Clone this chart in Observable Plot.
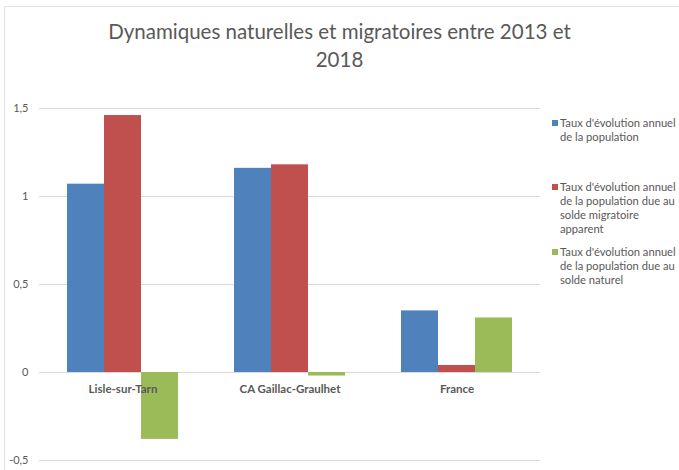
<!DOCTYPE html>
<html><head><meta charset="utf-8">
<script src="https://cdn.jsdelivr.net/npm/d3@7"></script>
<script src="https://cdn.jsdelivr.net/npm/@observablehq/plot@0.6"></script>
<style>
body{margin:0;background:#fff;}
#wrap{position:relative;width:679px;height:470px;overflow:hidden;font-family:Lato,"Open Sans",sans-serif;color:#595959;}
#border{position:absolute;left:4px;top:6px;width:680px;height:470px;border-left:1.5px solid #e3e3e3;border-top:1.5px solid #e3e3e3;}
#title{position:absolute;left:0;top:17px;width:679px;text-align:center;font-size:20.5px;line-height:28px;color:#595959;}
#chart{position:absolute;left:0;top:0;}
#legend{position:absolute;left:552px;top:116px;font-size:11.2px;line-height:14px;color:#595959;}
.item{position:absolute;left:0;width:127px;padding-left:8px;white-space:nowrap;}
.sw{position:absolute;left:0;top:4px;width:6px;height:6px;}
</style></head>
<body><div id="wrap"><div id="border"></div><div id="chart"></div>
<div id="title">Dynamiques naturelles et migratoires entre 2013 et<br>2018</div>
<div id="legend"></div></div>
<script>
const categories = ["Lisle-sur-Tarn", "CA Gaillac-Graulhet", "France"];
const series = [
  "Taux d'évolution annuel de la population",
  "Taux d'évolution annuel de la population due au solde migratoire apparent",
  "Taux d'évolution annuel de la population due au solde naturel"
];
const seriesLines = [
  ["Taux d'évolution annuel", "de la population"],
  ["Taux d'évolution annuel", "de la population due au", "solde migratoire", "apparent"],
  ["Taux d'évolution annuel", "de la population due au", "solde naturel"]
];
const totalRate = [1.07, 1.16, 0.35];
const migratoryRate = [1.46, 1.18, 0.04];
const naturalRate = [-0.38, -0.02, 0.31];
const colors = ["#4F81BD", "#C0504D", "#9BBB59"];
const yTicks = [-0.5, 0, 0.5, 1, 1.5];

const values = [totalRate, migratoryRate, naturalRate];
const data = [];
categories.forEach((c, i) => series.forEach((s, j) => data.push({category: c, series: s, value: values[j][i]})));

const plot = Plot.plot({
  width: 679, height: 470,
  marginTop: 108, marginBottom: 10, marginLeft: 38, marginRight: 139,
  style: {fontFamily: "Lato, 'Open Sans', sans-serif", color: "#595959", background: "transparent"},
  fx: {domain: categories, padding: 0, axis: null, label: null},
  x: {domain: series, paddingInner: 0, paddingOuter: 0.75, axis: null, label: null},
  y: {domain: [-0.5, 1.5], axis: null, label: null},
  color: {domain: series, range: colors},
  marks: [
    Plot.ruleY(yTicks, {y: d => d, stroke: "#d9d9d9", strokeWidth: 1}),
    Plot.barY(data, {fx: "category", x: "series", y: "value", fill: "series"}),
    Plot.text(categories, {fx: d => d, y: 0, text: d => d, dy: 17, fontWeight: "bold", fontSize: 11.5, fill: "#595959"}),
    Plot.axisY(yTicks, {tickSize: 0, tickPadding: 11, fontSize: 11, label: null, tickFormat: d => String(d).replace(".", ","), anchor: "left"})
  ]
});
document.getElementById("chart").appendChild(plot);

const legend = document.getElementById("legend");
const tops = [0, 64, 129];
seriesLines.forEach((lines, i) => {
  const it = document.createElement("div");
  it.className = "item";
  it.style.top = tops[i] + "px";
  it.innerHTML = `<div class="sw" style="background:${colors[i]}"></div>` + lines.join("<br>");
  legend.appendChild(it);
});
</script></body></html>
